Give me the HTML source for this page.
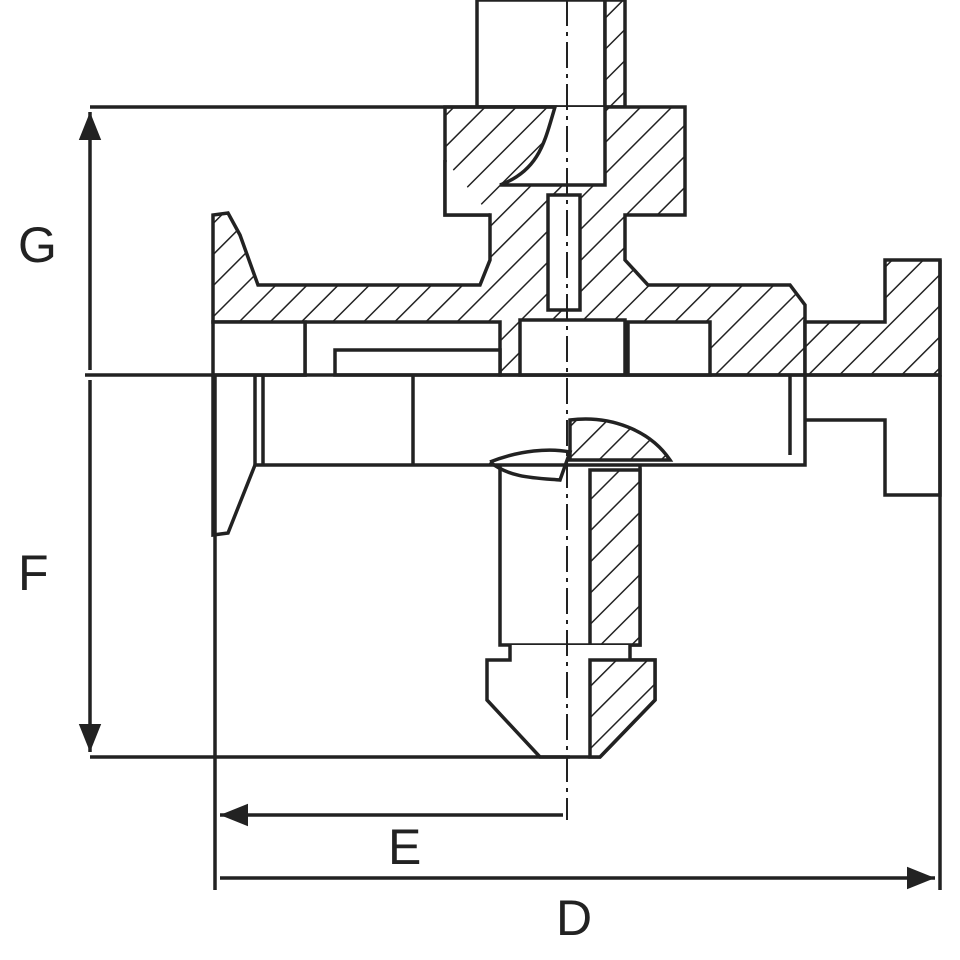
<!DOCTYPE html>
<html><head><meta charset="utf-8"><style>html,body{margin:0;padding:0;background:#fff}svg{display:block}</style></head>
<body>
<svg width="960" height="960" viewBox="0 0 960 960" xmlns="http://www.w3.org/2000/svg">
<defs>
<pattern id="h" patternUnits="userSpaceOnUse" width="22" height="22" patternTransform="rotate(45)">
<rect width="22" height="22" fill="#fff"/><line x1="0" y1="0" x2="0" y2="22" stroke="#222" stroke-width="3"/>
</pattern>
<marker id="a" viewBox="0 0 10 10" refX="10" refY="5" markerWidth="8" markerHeight="8" orient="auto-start-reverse"><path d="M0,1 L10,5 L0,9 z" fill="#222"/></marker>
</defs>
<g stroke="#222" stroke-width="3.5" fill="none">
<rect x="477" y="0" width="128" height="107" fill="#fff"/>
<rect x="605" y="0" width="20" height="107" fill="url(#h)"/>
<path fill="url(#h)" d="M445,107 H685 V215 H625 V260 L648,285 H790 L805,305 V375 H500 V322 H305 V375 H258 V322 H213 V215 L228,213 L240,235 L258,285 H480 L490,260 V215 H445 Z"/>
<path fill="#fff" d="M445,107 H555 C545,140 540,170 500,185 H605 V107 M445,160 V215 H490"/>
<rect x="548" y="195" width="32" height="115" fill="#fff"/>
<rect x="213" y="322" width="92" height="53" fill="#fff"/>
<rect x="335" y="350" width="165" height="25" fill="#fff"/>
<rect x="520" y="320" width="105" height="55" fill="#fff"/>
<rect x="628" y="322" width="82" height="53" fill="#fff"/>
<path fill="url(#h)" d="M805,322 H885 V260 H940 V375 H805 Z"/>
<path d="M213,375 V535 L228,533 L255,465 H805 V375"/>
<path d="M255,375 V465 M263,375 V465 M413,375 V465 M790,375 V455"/>
<path d="M805,420 H885 V495 H940 V375"/>
<path d="M500,465 V645 H640 V465"/>
<path fill="url(#h)" d="M590,470 H640 V645 H590 Z"/>
<path fill="url(#h)" d="M570,420 C610,415 650,430 670,460 H570 Z"/>
<path d="M490,462 C520,450 550,448 570,452 L560,480 C535,478 510,478 490,462"/>
<path fill="#fff" d="M510,645 V660 H487 V700 L540,757 H600 L655,700 V660 H630 V645"/>
<path fill="url(#h)" d="M590,660 H655 V700 L600,757 H590 Z"/>
<path d="M90,107 H445 M85,375 H940 M90,757 H570 M215,375 V890 M940,260 V890"/>
<path d="M90,112 V370 M90,380 V752" marker-start="url(#a)" marker-end="url(#a)"/>
<path d="M220,815 H563 M220,878 H935" marker-start="url(#a)" marker-end="url(#a)"/>
<path d="M567,0 V820" stroke-width="2" stroke-dasharray="26,6,4,6"/>
</g>
<g font-family="Liberation Sans, sans-serif" font-size="50" fill="#222">
<text x="18" y="262">G</text>
<text x="18" y="590">F</text>
<text x="388" y="864">E</text>
<text x="556" y="935">D</text>
</g>
</svg>
</body></html>
